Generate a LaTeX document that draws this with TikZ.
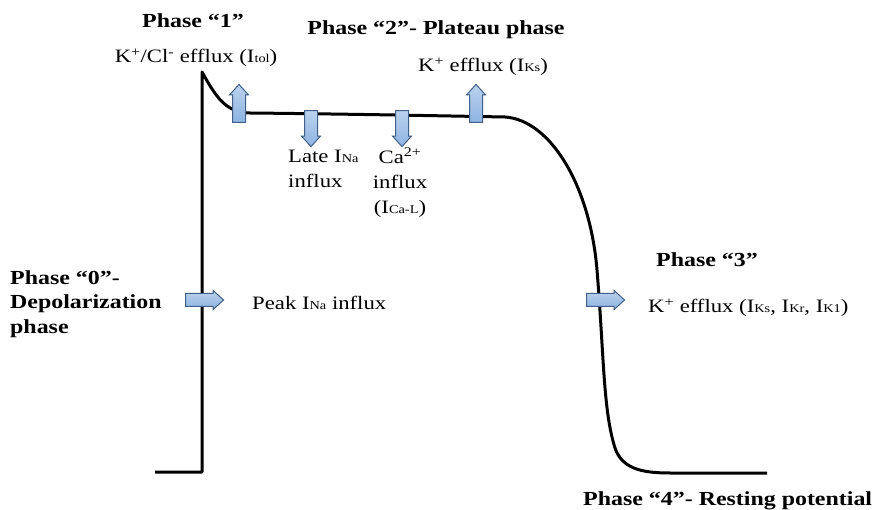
\documentclass[tikz,border=0pt]{standalone}
\usepackage{fontspec}
\setmainfont{Liberation Serif}[FakeStretch=1.2]
\usetikzlibrary{shapes.arrows}
\definecolor{arrowfill}{RGB}{141,180,226}
\definecolor{arrowline}{RGB}{65,95,135}
\newcommand{\ionlo}[1]{{\fontsize{12}{12}\selectfont #1}}
\tikzset{
  phase/.style={inner sep=0pt,font=\fontsize{20}{25}\selectfont\bfseries},
  ion/.style={inner sep=0pt,font=\fontsize{19}{25}\selectfont},
  blockarrow/.style={single arrow,draw=arrowline,top color=arrowfill!60,bottom color=arrowfill,
    line width=1bp,minimum height=38bp,minimum width=18bp,single arrow head extend=3bp,
    single arrow tip angle=84,inner sep=0pt,text height=12bp,text width=0bp}
}
\begin{document}
\begin{tikzpicture}[x=1bp,y=-1bp]
\useasboundingbox (0,0) rectangle (875,510);
\draw[line width=3bp,line join=round] (155,472) -- (202,472) -- (202,72)
  .. controls (215,95) and (225,113) .. (250,113)
  .. controls (350,114) and (450,116) .. (505,117)
  .. controls (550,120) and (590,185) .. (597,270)
  .. controls (604,355) and (603,410) .. (615,448)
  .. controls (622,468) and (640,473) .. (670,473) -- (767,473);
% arrows
\node[blockarrow] (a0) at (201,300) {};
\node[blockarrow,rotate=90] (a1) at (239,107) {};
\node[blockarrow,rotate=-90,minimum height=36bp] (a2) at (311,125) {};
\node[blockarrow,rotate=-90,minimum height=36bp] (a3) at (402,125) {};
\node[blockarrow,rotate=90] (a4) at (476,107) {};
\node[blockarrow] (a5) at (602,300) {};
% labels
\node[phase,anchor=base] (p1) at (193,28) {Phase “1”};
\node[ion,anchor=base] (kcl) at (196,63) {K\textsuperscript{+}/Cl\textsuperscript{-} efflux (I\ionlo{tol})};
\node[phase,anchor=base] (p2) at (436,35) {Phase “2”- Plateau phase};
\node[ion,anchor=base] (iks) at (483,72) {K\textsuperscript{+} efflux (I\ionlo{Ks})};
\node[ion,anchor=north west,align=left] (late) at (288,150) {Late I\ionlo{Na}\\influx};
\node[ion,anchor=north,align=center] (ca) at (400,148) {Ca\textsuperscript{2+}\\influx\\(I\ionlo{Ca-L})};
\node[phase,anchor=north west,align=left] (p0) at (10,270) {Phase “0”-\\Depolarization\\phase};
\node[ion,anchor=base west] (peak) at (252,310) {Peak I\ionlo{Na} influx};
\node[phase,anchor=base] (p3) at (707,267) {Phase “3”};
\node[ion,anchor=base west] (k3) at (648,313) {K\textsuperscript{+} efflux (I\ionlo{Ks}, I\ionlo{Kr}, I\ionlo{K1})};
\node[phase,anchor=base west] (p4) at (583,505) {Phase “4”- Resting potential};
\end{tikzpicture}
\end{document}
